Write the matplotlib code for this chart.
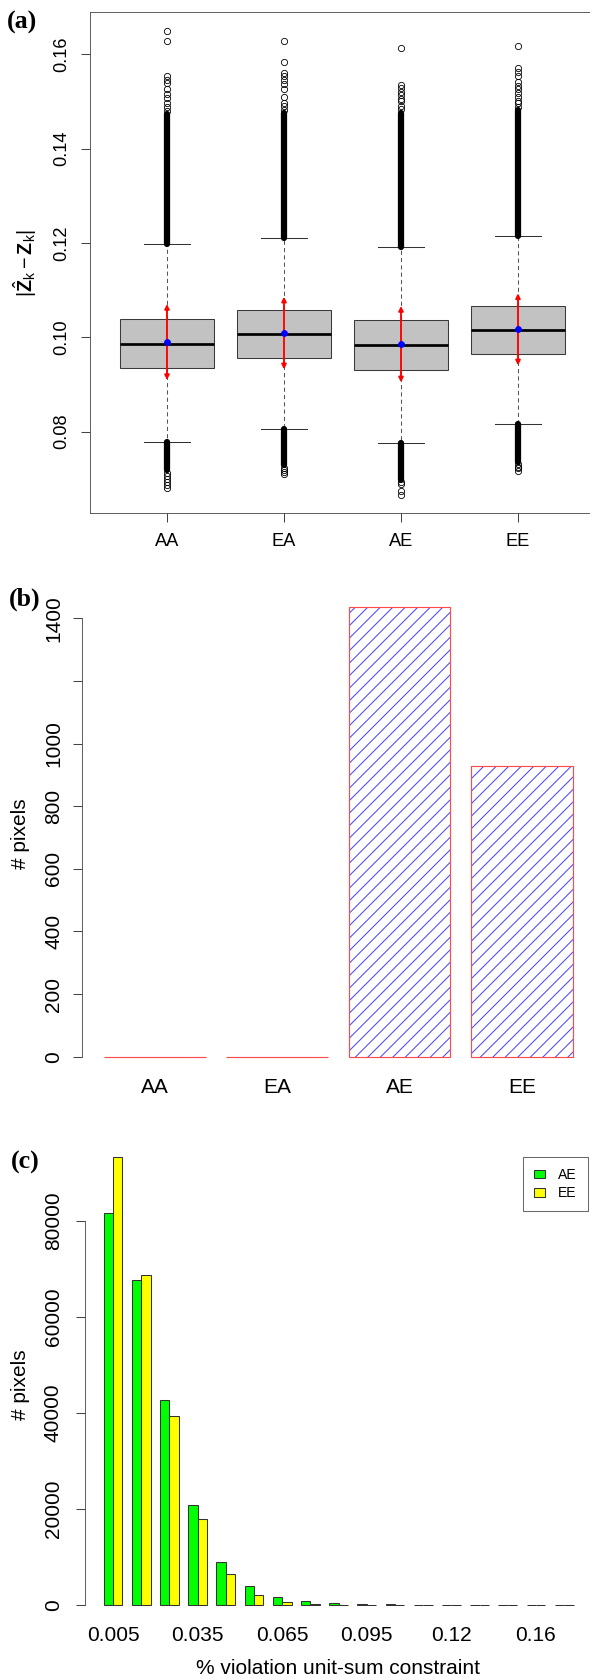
import numpy as np
import matplotlib
matplotlib.use('Agg')
import matplotlib.pyplot as plt
from matplotlib.patches import Patch


plt.rcParams['font.family'] = 'Liberation Sans'
plt.rcParams['mathtext.fontset'] = 'custom'
plt.rcParams['mathtext.rm'] = 'Liberation Sans'
plt.rcParams['mathtext.bf'] = 'Liberation Sans:bold'
plt.rcParams['mathtext.it'] = 'Liberation Sans:italic'
plt.rcParams['hatch.linewidth'] = 1.0

W, H, DPI = 590, 1679, 75

# ===== data: panel (a) boxplots =====
groups = ['AA', 'EA', 'AE', 'EE']
box_q1 = [0.09343, 0.09561, 0.09313, 0.09652]
box_med = [0.09865, 0.10064, 0.09830, 0.10148]
box_q3 = [0.10388, 0.10572, 0.10360, 0.10657]
whisk_lo = [0.07777, 0.08050, 0.07753, 0.08166]
whisk_hi = [0.11984, 0.12100, 0.11922, 0.12155]
mean_val = [0.09894, 0.10085, 0.09865, 0.10176]
sd_lo = [0.09095, 0.09322, 0.09046, 0.09406]
sd_hi = [0.10706, 0.10861, 0.10664, 0.10933]

# solid runs of overlapping outliers
dense_hi = [0.1474, 0.1476, 0.1476, 0.1482]
dense_lo = [0.0718, 0.0729, 0.0698, 0.0736]

# separate outliers
out_hi = [[0.1649, 0.1629, 0.1554, 0.1546, 0.1540, 0.1526, 0.1515, 0.1507, 0.1496, 0.1488, 0.1480],
          [0.1628, 0.1583, 0.1561, 0.1553, 0.1545, 0.1538, 0.1527, 0.1510, 0.1497, 0.1490, 0.1482],
          [0.1614, 0.1535, 0.1528, 0.1520, 0.1514, 0.1505, 0.1500, 0.1490, 0.1483],
          [0.1618, 0.1570, 0.1563, 0.1553, 0.1542, 0.1533, 0.1526, 0.1518, 0.1510, 0.1500, 0.1496, 0.1489]]
out_lo = [[0.0713, 0.0707, 0.0700, 0.0694, 0.0688, 0.0681],
          [0.0724, 0.0719, 0.0715, 0.0710],
          [0.0694, 0.0690, 0.0675, 0.0665],
          [0.0731, 0.0726, 0.0722, 0.0716]]

# ===== data: panel (b) =====
counts_b = [0, 0, 1437, 930]

# ===== data: panel (c) =====
bins_c = ['0.005', '0.015', '0.025', '0.035', '0.045', '0.055', '0.065', '0.075', '0.085',
          '0.095', '0.1', '0.12', '0.12', '0.14', '0.14', '0.16', '0.17']
ae_c = [81600, 67700, 42700, 20800, 9000, 3960, 1650, 770, 450, 260, 100, 40, 20, 10, 5, 0, 0]
ee_c = [93400, 68700, 39400, 18000, 6460, 2050, 560, 190, 60, 30, 15, 5, 0, 0, 0, 0, 0]


def rect(l, t, r, b):
    return [l / W, 1 - b / H, (r - l) / W, (b - t) / H]


def ftext(x, y, s, **kw):
    fig.text(x / W, 1 - y / H, s, ha='center', va='center', **kw)


fig = plt.figure(figsize=(W / DPI, H / DPI), dpi=DPI)
spine_col = '#444444'

# ===== Panel (a) =====
ax = fig.add_axes(rect(90, 12.3, 593, 513.3))
pos = np.arange(1, 5)
stats = [dict(med=box_med[i], q1=box_q1[i], q3=box_q3[i],
              whislo=whisk_lo[i], whishi=whisk_hi[i], fliers=[]) for i in range(4)]
ax.bxp(stats, positions=pos, widths=0.8, capwidths=0.4, patch_artist=True, showfliers=False,
       boxprops=dict(facecolor='#c2c2c2', edgecolor='#3a3a3a', lw=1),
       medianprops=dict(color='black', lw=2.6),
       whiskerprops=dict(color='#555555', ls=(0, (4, 3)), lw=1),
       capprops=dict(color='#333333', lw=1))

ax.vlines(pos, whisk_hi, dense_hi, color='black', lw=6, capstyle='round')
ax.vlines(pos, dense_lo, whisk_lo, color='black', lw=6, capstyle='round')
for i in range(4):
    ax.plot([pos[i]] * len(out_hi[i]), out_hi[i], 'o', mfc='none', mec='black', ms=6, mew=0.8)
    ax.plot([pos[i]] * len(out_lo[i]), out_lo[i], 'o', mfc='none', mec='black', ms=6, mew=0.8)
    ax.annotate('', xy=(pos[i], sd_hi[i]), xytext=(pos[i], sd_lo[i]),
                arrowprops=dict(arrowstyle='<|-|>', color='red', lw=1.8,
                                mutation_scale=9, shrinkA=0, shrinkB=0))
ax.plot(pos, mean_val, 'o', color='blue', ms=5.5, zorder=5)

ax.set_xlim(0.342, 4.641)
ax.set_ylim(0.0627, 0.1689)
ax.set_xticks(pos, groups)
ax.set_yticks([0.08, 0.10, 0.12, 0.14, 0.16], ['0.08', '0.10', '0.12', '0.14', '0.16'])
ax.tick_params(length=8.6, width=1, color=spine_col, labelsize=17.5, pad=10)
plt.setp(ax.get_yticklabels(), rotation=90, va='center')
for s in ax.spines.values():
    s.set_color(spine_col)

ftext(25, 263, r'$|\hat{\mathbf{Z}}_{\mathrm{k}} - \mathbf{Z}_{\mathrm{k}}|$', rotation=90, fontsize=19)
ftext(22.5, 22.5, '(a)', family='Liberation Serif', weight='bold', fontsize=25)

# ===== Panel (b) =====
axb = fig.add_axes(rect(82, 588.8, 591.5, 1074.7))
xb = 0.7 + 1.2 * np.arange(4)
axb.bar(xb, counts_b, width=1, color='none', edgecolor='#4a4aff', hatch='//', lw=0)
axb.bar(xb, counts_b, width=1, fill=False, edgecolor='#ff4a4a', lw=1.1)
axb.set_xlim(-0.016, 4.984)
axb.set_ylim(-57.5, 1494.5)
axb.set_xticks(xb, groups)
axb.tick_params(axis='x', length=0, labelsize=20, pad=3)
axb.set_yticks(np.arange(0, 1401, 200), ['0', '200', '400', '600', '800', '1000', '', '1400'])
axb.tick_params(axis='y', length=8.6, width=1, color=spine_col, labelsize=20, pad=9.5)
plt.setp(axb.get_yticklabels(), rotation=90, va='center')
for k in ['top', 'right', 'bottom']:
    axb.spines[k].set_visible(False)
axb.spines['left'].set_bounds(0, 1400)
axb.spines['left'].set_color(spine_col)

ftext(20, 834, '# pixels', rotation=90, fontsize=20)
ftext(24.5, 599, '(b)', family='Liberation Serif', weight='bold', fontsize=25)

# ===== Panel (c) =====
axc = fig.add_axes(rect(84.8, 1138.7, 592.4, 1622.9))
gc = 2 + 3 * np.arange(len(bins_c))
axc.bar(gc - 0.5, ae_c, width=1, color='#00ff00', edgecolor='#333333', lw=1)
axc.bar(gc + 0.5, ee_c, width=1, color='#ffff00', edgecolor='#333333', lw=1)
axc.set_xlim(-1, 53)
axc.set_ylim(-3736, 97136)
axc.set_xticks(gc[::3], bins_c[::3])
axc.tick_params(axis='x', length=0, labelsize=20, pad=3)
axc.set_yticks(np.arange(0, 80001, 20000), ['0', '20000', '40000', '60000', '80000'])
axc.tick_params(axis='y', length=8.6, width=1, color=spine_col, labelsize=20, pad=12.5)
plt.setp(axc.get_yticklabels(), rotation=90, va='center')
for k in ['top', 'right', 'bottom']:
    axc.spines[k].set_visible(False)
axc.spines['left'].set_bounds(0, 80000)
axc.spines['left'].set_color(spine_col)

handles = [Patch(facecolor='#00ff00', edgecolor='#333333', label='AE'),
           Patch(facecolor='#ffff00', edgecolor='#333333', label='EE')]
leg = axc.legend(handles=handles, loc='upper left', bbox_to_anchor=(523 / W, 1 - 1156.7 / H),
                 bbox_transform=fig.transFigure, fontsize=13.4, fancybox=False,
                 handlelength=0.8, handleheight=0.6, handletextpad=0.9,
                 borderpad=0.8, labelspacing=0.3, borderaxespad=0)
leg.get_frame().set_edgecolor(spine_col)
leg.get_frame().set_linewidth(1)

ftext(21, 1385, '# pixels', rotation=90, fontsize=20)
ftext(338, 1668, '% violation unit-sum constraint', fontsize=20)
ftext(25.5, 1162, '(c)', family='Liberation Serif', weight='bold', fontsize=25)

fig.savefig('out.png', dpi=DPI)
